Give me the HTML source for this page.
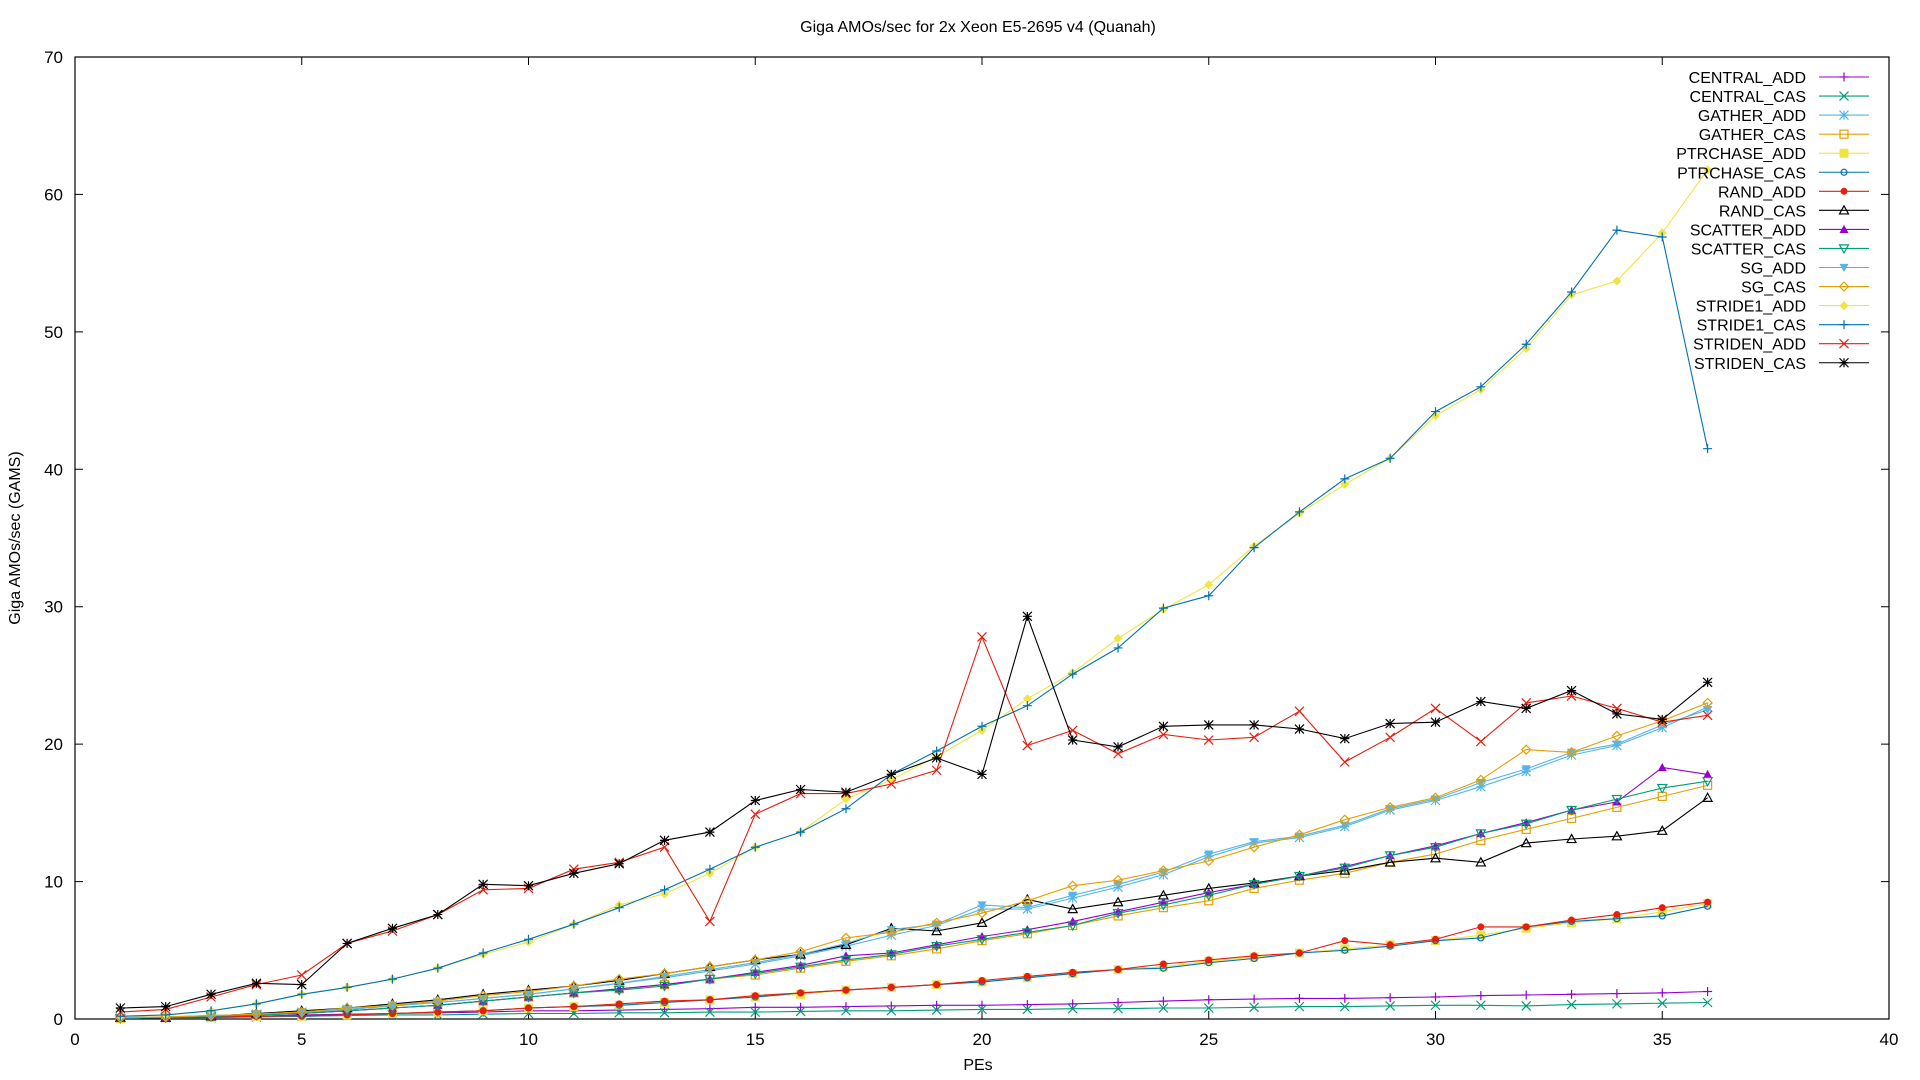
<!DOCTYPE html>
<html><head><meta charset="utf-8"><style>
html,body{margin:0;padding:0;background:#fff;}
svg{display:block;font-family:"Liberation Sans",Arial,sans-serif;}
</style></head><body>
<svg id="chart" width="1920" height="1080" viewBox="0 0 1920 1080" xmlns="http://www.w3.org/2000/svg">
<rect width="1920" height="1080" fill="#fff"/>
<text x="978" y="32" font-size="16" text-anchor="middle" fill="#000">Giga AMOs/sec for 2x Xeon E5-2695 v4 (Quanah)</text>
<text x="978" y="1070" font-size="16" text-anchor="middle" fill="#000">PEs</text>
<text x="0" y="0" font-size="16" text-anchor="middle" fill="#000" transform="translate(20,538) rotate(-90)">Giga AMOs/sec (GAMS)</text>
<g id="axes"></g>
<g id="series"></g>
<g id="legend"></g>
</svg>
<script>
const xTicks=[0,5,10,15,20,25,30,35,40];
const yTicks=[0,10,20,30,40,50,60,70];
const pes=[1,2,3,4,5,6,7,8,9,10,11,12,13,14,15,16,17,18,19,20,21,22,23,24,25,26,27,28,29,30,31,32,33,34,35,36];
const seriesNames=["CENTRAL_ADD","CENTRAL_CAS","GATHER_ADD","GATHER_CAS","PTRCHASE_ADD","PTRCHASE_CAS","RAND_ADD","RAND_CAS","SCATTER_ADD","SCATTER_CAS","SG_ADD","SG_CAS","STRIDE1_ADD","STRIDE1_CAS","STRIDEN_ADD","STRIDEN_CAS"];
const centralAdd=[0.05,0.1,0.15,0.2,0.3,0.35,0.4,0.45,0.5,0.6,0.6,0.65,0.7,0.75,0.85,0.85,0.9,0.95,1.0,1.0,1.05,1.1,1.2,1.3,1.4,1.45,1.5,1.5,1.55,1.6,1.7,1.75,1.8,1.85,1.9,2.0];
const centralCas=[0.05,0.1,0.1,0.15,0.2,0.25,0.3,0.3,0.35,0.4,0.4,0.45,0.45,0.5,0.5,0.55,0.6,0.6,0.65,0.7,0.7,0.75,0.75,0.8,0.8,0.85,0.9,0.9,0.95,1.0,1.0,0.95,1.05,1.1,1.15,1.2];
const gatherAdd=[0.1,0.15,0.25,0.35,0.5,0.7,0.95,1.2,1.5,1.8,2.2,2.6,3.0,3.5,4.0,4.6,5.3,6.1,6.8,8.0,8.0,8.8,9.6,10.5,11.8,12.8,13.2,14.0,15.2,15.9,16.9,18.0,19.2,19.9,21.2,22.7];
const gatherCas=[0.05,0.1,0.2,0.3,0.45,0.6,0.8,1.0,1.3,1.6,1.9,2.2,2.5,2.9,3.2,3.7,4.2,4.6,5.1,5.7,6.2,6.8,7.5,8.1,8.6,9.5,10.1,10.6,11.4,12.0,13.0,13.8,14.6,15.4,16.2,17.0];
const ptrchaseAdd=[0.05,0.1,0.1,0.2,0.2,0.3,0.4,0.5,0.6,0.8,0.9,1.0,1.2,1.4,1.6,1.8,2.1,2.3,2.5,2.7,3.0,3.3,3.6,3.8,4.2,4.5,4.8,5.1,5.4,5.7,6.1,6.6,7.0,7.3,7.8,8.4];
const ptrchaseCas=[0.05,0.1,0.1,0.2,0.2,0.3,0.4,0.5,0.6,0.8,0.9,1.0,1.2,1.4,1.6,1.9,2.1,2.3,2.5,2.7,3.0,3.3,3.6,3.7,4.1,4.4,4.8,5.0,5.3,5.7,5.9,6.7,7.1,7.3,7.5,8.2];
const randAdd=[0.05,0.1,0.15,0.2,0.25,0.3,0.4,0.5,0.6,0.8,0.9,1.1,1.3,1.4,1.7,1.9,2.1,2.3,2.5,2.8,3.1,3.4,3.6,4.0,4.3,4.6,4.8,5.7,5.4,5.8,6.7,6.7,7.2,7.6,8.1,8.5];
const randCas=[0.1,0.1,0.2,0.4,0.6,0.8,1.1,1.4,1.8,2.1,2.4,2.8,3.3,3.8,4.3,4.7,5.4,6.6,6.4,7.0,8.7,8.0,8.5,9.0,9.5,9.9,10.4,10.8,11.4,11.7,11.4,12.8,13.1,13.3,13.7,16.1];
const scatterAdd=[0.05,0.1,0.2,0.3,0.4,0.6,0.8,1.0,1.3,1.6,1.9,2.2,2.5,2.9,3.4,3.9,4.6,4.8,5.4,6.0,6.5,7.1,7.8,8.5,9.2,9.8,10.4,11.1,11.9,12.6,13.5,14.3,15.2,15.8,18.3,17.8];
const scatterCas=[0.05,0.1,0.2,0.3,0.4,0.6,0.8,1.0,1.3,1.6,1.9,2.1,2.4,2.9,3.3,3.8,4.3,4.7,5.3,5.8,6.3,6.8,7.7,8.3,9.0,9.8,10.4,11.0,11.9,12.5,13.5,14.2,15.2,16.0,16.8,17.3];
const sgAdd=[0.1,0.15,0.25,0.35,0.5,0.7,0.95,1.2,1.5,1.8,2.2,2.6,3.1,3.6,4.1,4.7,5.5,6.5,6.9,8.3,8.1,9.0,9.8,10.7,12.0,12.9,13.3,14.1,15.3,16.0,17.2,18.2,19.4,20.0,21.4,22.5];
const sgCas=[0.1,0.15,0.25,0.35,0.5,0.8,1.0,1.3,1.7,2.0,2.4,2.9,3.3,3.8,4.3,4.9,5.9,6.3,7.0,7.7,8.6,9.7,10.1,10.8,11.5,12.5,13.4,14.5,15.4,16.1,17.4,19.6,19.4,20.6,21.7,23.0];
const stride1Add=[0.2,0.3,0.6,1.1,1.8,2.3,2.9,3.7,4.7,5.6,6.9,8.3,9.1,10.6,12.5,13.6,16.0,17.4,19.1,21.0,23.3,25.2,27.7,29.8,31.6,34.4,36.8,38.9,40.8,43.9,45.8,48.8,52.7,53.7,57.2,61.8];
const stride1Cas=[0.2,0.3,0.6,1.1,1.8,2.3,2.9,3.7,4.8,5.8,6.9,8.1,9.4,10.9,12.5,13.6,15.3,17.8,19.5,21.3,22.8,25.1,27.0,29.9,30.8,34.3,36.9,39.3,40.8,44.2,46.0,49.1,52.9,57.4,56.9,41.5];
const stridenAdd=[0.5,0.7,1.6,2.5,3.2,5.5,6.4,7.6,9.4,9.5,10.9,11.4,12.5,7.1,14.9,16.4,16.4,17.1,18.1,27.8,19.9,21.0,19.3,20.7,20.3,20.5,22.4,18.7,20.5,22.6,20.2,23.0,23.5,22.6,21.6,22.1];
const stridenCas=[0.8,0.9,1.8,2.6,2.5,5.5,6.6,7.6,9.8,9.7,10.6,11.3,13.0,13.6,15.9,16.7,16.5,17.8,19.0,17.8,29.3,20.3,19.8,21.3,21.4,21.4,21.1,20.4,21.5,21.6,23.1,22.6,23.9,22.2,21.8,24.5];

const allValues=[centralAdd,centralCas,gatherAdd,gatherCas,ptrchaseAdd,ptrchaseCas,randAdd,randCas,scatterAdd,scatterCas,sgAdd,sgCas,stride1Add,stride1Cas,stridenAdd,stridenCas];
const colors=["#9400d3","#009e73","#56b4e9","#e69f00","#f0e442","#0072b2","#e51e10","#000000","#9400d3","#009e73","#56b4e9","#e69f00","#f0e442","#0072b2","#e51e10","#000000"];
const markers=["plus","cross","star","sq","sqf","circ","circf","tri","trif","itri","itrif","dia","diaf","plus","cross","star"];

const L=75,R=1889,T=57,B=1019,XMAX=40,YMAX=70;
const xs=v=>L+(R-L)*v/XMAX;
const ys=v=>B-(B-T)*v/YMAX;
const NS="http://www.w3.org/2000/svg";
function mk(tag,attrs,parent){const e=document.createElementNS(NS,tag);for(const k in attrs)e.setAttribute(k,attrs[k]);parent.appendChild(e);return e;}

const axes=document.getElementById('axes');
const frame=mk('rect',{x:L,y:T,width:R-L,height:B-T,fill:'none',stroke:'#000','stroke-width':1.2},axes);


xTicks.forEach(t=>{
  const x=xs(t);
  const tk=mk('path',{d:`M${x},${B}v-8M${x},${T}v8`,stroke:'#000','stroke-width':1},axes);
  
  
  const lb=mk('text',{x:x,y:B+26,'font-size':17,'text-anchor':'middle',fill:'#000'},axes);
  lb.textContent=t;
  
  
});
yTicks.forEach(t=>{
  const y=ys(t);
  const tk=mk('path',{d:`M${L},${y}h8M${R},${y}h-8`,stroke:'#000','stroke-width':1},axes);
  
  
  const lb=mk('text',{x:L-12,y:y+6,'font-size':17,'text-anchor':'end',fill:'#000'},axes);
  lb.textContent=t;
  
  
});

function marker(type,x,y,c,g){
  const s=4.5;let e;
  switch(type){
    case 'plus':e=mk('path',{d:`M${x-s},${y}h${2*s}M${x},${y-s}v${2*s}`,stroke:c,'stroke-width':1.2,fill:'none'},g);break;
    case 'cross':e=mk('path',{d:`M${x-s},${y-s}L${x+s},${y+s}M${x-s},${y+s}L${x+s},${y-s}`,stroke:c,'stroke-width':1.2,fill:'none'},g);break;
    case 'star':e=mk('path',{d:`M${x-s},${y}h${2*s}M${x},${y-s}v${2*s}M${x-s},${y-s}L${x+s},${y+s}M${x-s},${y+s}L${x+s},${y-s}`,stroke:c,'stroke-width':1.2,fill:'none'},g);break;
    case 'sq':e=mk('rect',{x:x-s+0.5,y:y-s+0.5,width:2*s-1,height:2*s-1,stroke:c,'stroke-width':1.2,fill:'none'},g);break;
    case 'sqf':e=mk('rect',{x:x-s,y:y-s,width:2*s,height:2*s,fill:c},g);break;
    case 'circ':e=mk('circle',{cx:x,cy:y,r:3,stroke:c,'stroke-width':1.2,fill:'none'},g);break;
    case 'circf':e=mk('circle',{cx:x,cy:y,r:3.5,fill:c},g);break;
    case 'tri':e=mk('path',{d:`M${x},${y-s}L${x+s},${y+s*0.8}L${x-s},${y+s*0.8}Z`,stroke:c,'stroke-width':1.2,fill:'none'},g);break;
    case 'trif':e=mk('path',{d:`M${x},${y-s}L${x+s},${y+s*0.8}L${x-s},${y+s*0.8}Z`,fill:c},g);break;
    case 'itri':e=mk('path',{d:`M${x},${y+s}L${x+s},${y-s*0.8}L${x-s},${y-s*0.8}Z`,stroke:c,'stroke-width':1.2,fill:'none'},g);break;
    case 'itrif':e=mk('path',{d:`M${x},${y+s}L${x+s},${y-s*0.8}L${x-s},${y-s*0.8}Z`,fill:c},g);break;
    case 'dia':e=mk('path',{d:`M${x},${y-s}L${x+s},${y}L${x},${y+s}L${x-s},${y}Z`,stroke:c,'stroke-width':1.2,fill:'none'},g);break;
    default:e=mk('path',{d:`M${x},${y-s}L${x+s},${y}L${x},${y+s}L${x-s},${y}Z`,fill:c},g);
  }
  
  
}

const sg=document.getElementById('series');
const lg=document.getElementById('legend');
allValues.forEach((vals,i)=>{
  const g=mk('g',{},sg);
  
  
  const d=vals.map((v,j)=>(j?'L':'M')+xs(pes[j]).toFixed(1)+','+ys(v).toFixed(1)).join('');
  const ln=mk('path',{d:d,stroke:colors[i],'stroke-width':1.1,fill:'none'},g);
  
  
  vals.forEach((v,j)=>marker(markers[i],xs(pes[j]),ys(v),colors[i],g));
  const ly=77+i*19.05;
  const le=mk('g',{},lg);
  
  
  const tx=mk('text',{x:1806,y:ly+6,'font-size':16,'text-anchor':'end',fill:'#000'},le);
  tx.textContent=seriesNames[i];
  
  
  const sl=mk('path',{d:`M1819,${ly}H1869`,stroke:colors[i],'stroke-width':1.1},le);
  
  
  marker(markers[i],1844,ly,colors[i],le);
});
</script>
</body></html>
